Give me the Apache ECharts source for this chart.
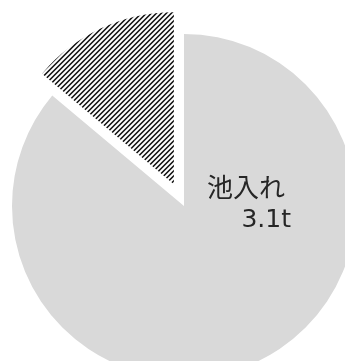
<!DOCTYPE html>
<html>
<head>
<meta charset="utf-8">
<script src="https://cdn.jsdelivr.net/npm/echarts@6/dist/echarts.min.js"></script>
<style>
  html, body { margin: 0; padding: 0; background: #fff; }
  #chart { width: 345px; height: 361px; }
</style>
</head>
<body>
<div id="chart"></div>
<script>
// Share of catch by destination (tonnes)
const categories = ['池入れ', 'その他'];
const values = [3.1, 0.5];
const unit = 't';

// Upward diagonal hatch tile: 2px strokes on a 5px period
function hatchTile() {
  const p = 5;
  const c = document.createElement('canvas');
  c.width = p; c.height = p;
  const ctx = c.getContext('2d');
  ctx.fillStyle = '#ffffff';
  ctx.fillRect(0, 0, p, p);
  ctx.fillStyle = '#000000';
  for (let y = 0; y < p; y++) {
    for (let x = 0; x < p; x++) {
      const k = (x + y) % p;
      if (k === 0 || k === 1) ctx.fillRect(x, y, 1, 1);
    }
  }
  return c;
}

const chart = echarts.init(document.getElementById('chart'), null, { renderer: 'canvas' });

const styles = [
  { color: '#d9d9d9' },
  { color: { image: hatchTile(), repeat: 'repeat' } }
];

chart.setOption({
  animation: false,
  series: [{
    type: 'pie',
    center: [184, 206],
    radius: 172,
    startAngle: 90,
    clockwise: true,
    selectedMode: 'multiple',
    selectedOffset: 24,
    silent: true,
    label: { show: false },
    labelLine: { show: false },
    data: categories.map((name, i) => ({
      name,
      value: values[i],
      selected: i === 1,
      itemStyle: styles[i],
      label: i === 0 ? {
        show: true,
        position: 'center',
        align: 'right',
        fontSize: 26,
        color: '#262626',
        formatter: '{a|' + name + '}\n{b|' + values[i] + unit + '}',
        rich: {
          a: { fontFamily: '"Noto Sans CJK JP"', fontSize: 26, color: '#262626', lineHeight: 33, align: 'right', padding: [0, 6, 0, 0] },
          b: { fontFamily: '"DejaVu Sans"', fontSize: 25, color: '#262626', lineHeight: 33, align: 'right' }
        }
      } : { show: false }
    })),
    labelLayout: function (params) {
      if (params.dataIndex !== 0) return {};
      return { dx: 65, dy: -2 };
    }
  }]
});
</script>
</body>
</html>
